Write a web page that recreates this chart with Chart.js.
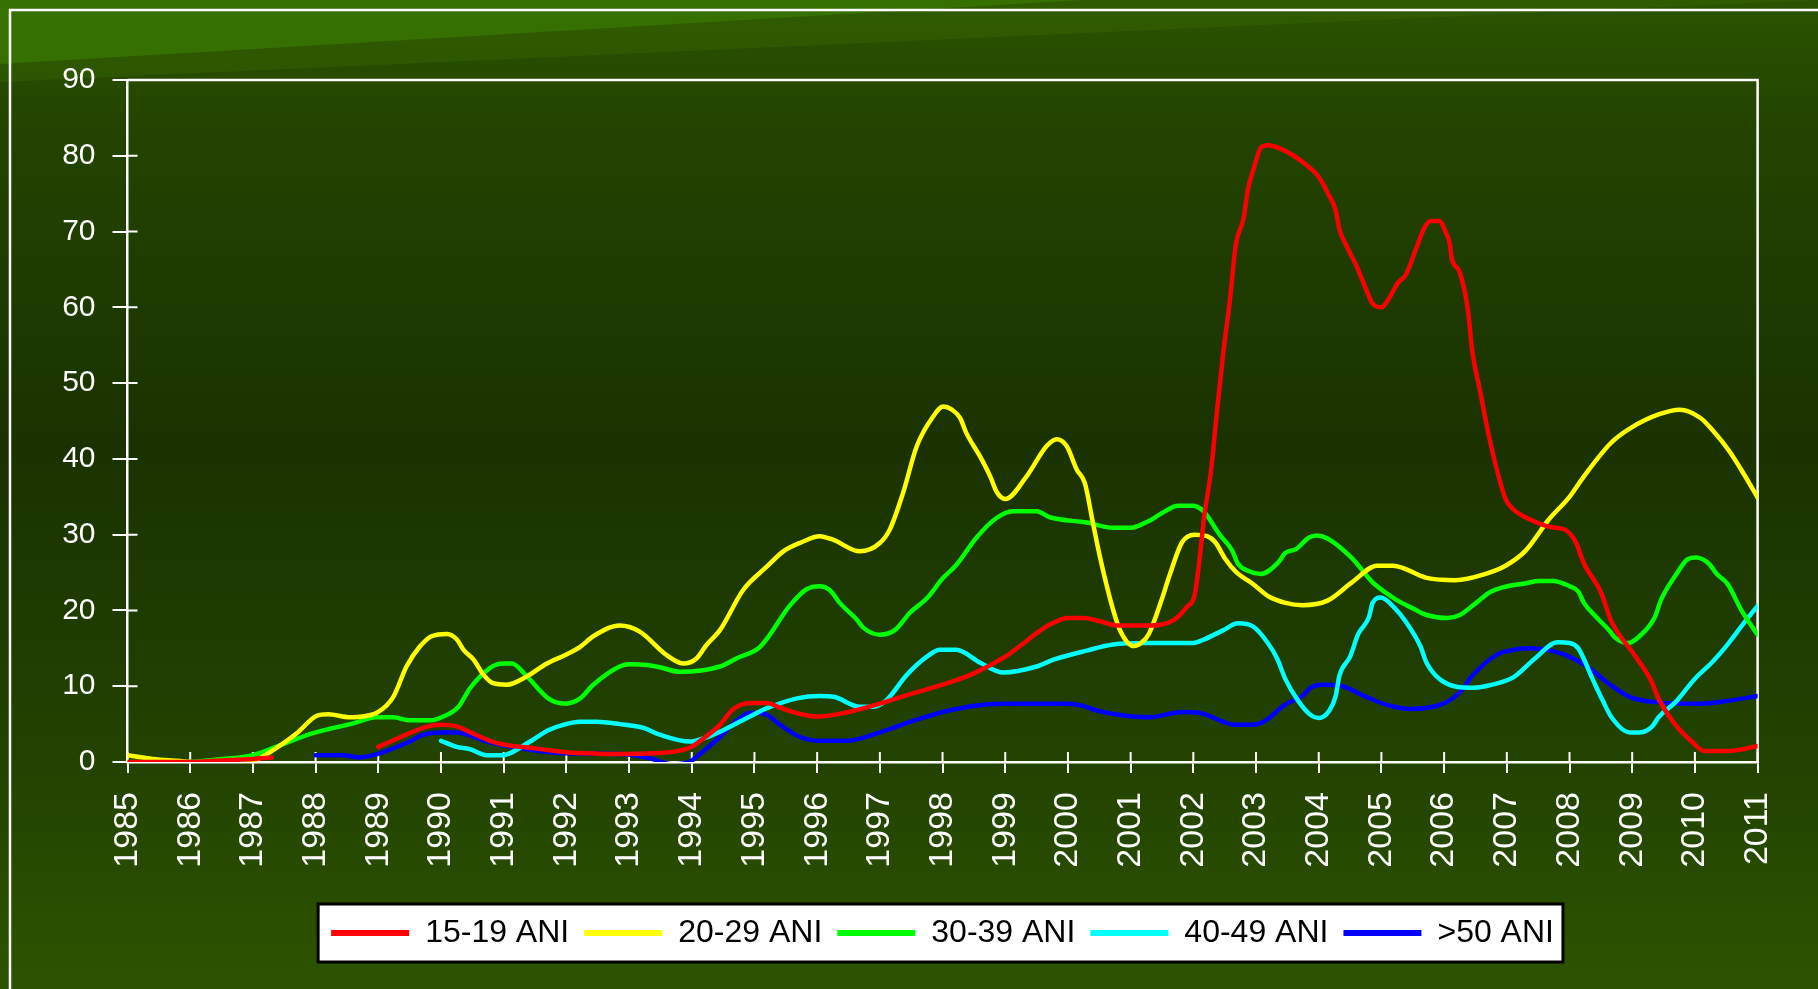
<!DOCTYPE html>
<html>
<head>
<meta charset="utf-8">
<script src="https://cdn.jsdelivr.net/npm/chart.js@4.4.0/dist/chart.umd.min.js"></script>
<style>
  html, body { margin: 0; padding: 0; background: #1e3a00; }
  #wrap { width: 1818px; height: 989px; }
</style>
</head>
<body>
<div id="wrap"><canvas id="chart" width="1818" height="989"></canvas></div>
<script>
// tick labels
const yearLabels = ['1985', '1986', '1987', '1988', '1989', '1990', '1991', '1992', '1993', '1994', '1995', '1996', '1997',
    '1998', '1999', '2000', '2001', '2002', '2003', '2004', '2005', '2006', '2007', '2008', '2009', '2010', '2011'];
const seriesNames = ['15-19 ANI', '20-29 ANI', '30-39 ANI', '40-49 ANI', '>50 ANI'];
const seriesColors = ['#ff0000', '#ffff00', '#00ff00', '#00ffff', '#0000ff'];

// 15-19 ANI
const redYears = [1985, 1985.5, 1986, 1986.5, 1987, 1987.3, 1988, 1989, 1989.25, 1989.5, 1989.75, 1990, 1990.25, 1990.5, 1990.75,
    1991, 1991.5, 1992, 1992.5, 1992.85, 1993.4, 1993.75, 1994.0, 1994.2, 1994.45, 1994.65, 1994.93, 1995.2, 1995.4, 1995.75,
    1996, 1996.5, 1997, 1997.5, 1998, 1998.5, 1999, 1999.25, 1999.5, 1999.75, 2000, 2000.25, 2000.5, 2000.8, 2001.25, 2001.7,
    2001.9, 2002.02, 2002.1, 2002.17, 2002.28, 2002.38, 2002.48, 2002.58, 2002.68, 2002.8, 2002.87, 2002.97, 2003.08, 2003.2,
    2003.37, 2003.6, 2003.8, 2004.0, 2004.15, 2004.27, 2004.33, 2004.45, 2004.6, 2004.73, 2004.86, 2005.0, 2005.13, 2005.26,
    2005.39, 2005.56, 2005.69, 2005.79, 2005.92, 2006.02, 2006.09, 2006.12, 2006.25, 2006.38, 2006.45, 2006.58, 2006.71,
    2006.85, 2006.98, 2007.11, 2007.37, 2007.7, 2007.94, 2008.1, 2008.23, 2008.5, 2008.67, 2009.03, 2009.29, 2009.43,
    2009.69, 2009.95, 2010.15, 2010.6, 2011];
const redValues = [0, 0, 0, 0.2, 0.4, 0.6, null, 2.0, 2.9, 3.8, 4.6, 4.9, 4.7, 3.8, 2.9,
    2.3, 1.8, 1.3, 1.1, 1.05, 1.15, 1.4, 2.0, 3.2, 4.9, 6.9, 7.8, 7.8, 7.2, 6.3,
    6.0, 6.6, 7.7, 9.0, 10.2, 11.7, 13.9, 15.4, 17.0, 18.3, 19.0, 19.0, 18.6, 18.0, 18.0, 18.8,
    20.5, 22.0, 26.8, 32.2, 38.3, 46.5, 54.2, 60.7, 68.4, 71.7, 75.5, 78.5, 81.1, 81.4,
    81.0, 80.0, 78.8, 77.2, 75.0, 72.8, 70.3, 68.0, 65.5, 62.9, 60.5, 60.0, 61.3, 63.2,
    64.3, 67.9, 70.6, 71.4, 71.4, 70.0, 68.4, 66.5, 64.6, 59.6, 54.2, 48.7, 43.2,
    38.3, 34.7, 33.3, 32.0, 31.0, 30.6, 29.0, 26.2, 22.4, 18.5, 14.2, 10.9, 8.2,
    4.9, 2.7, 1.45, 1.5, 2.1];

// 20-29 ANI
const yellowYears = [1985, 1985.4, 1985.95, 1986.3, 1986.65, 1987.0, 1987.33, 1987.7, 1988.02, 1988.2, 1988.55, 1988.75,
    1989.0, 1989.24, 1989.45, 1989.66, 1989.85, 1990.1, 1990.25, 1990.36, 1990.52, 1990.68, 1990.83, 1991.05, 1991.37,
    1991.69, 1992.0, 1992.22, 1992.43, 1992.85, 1993.17, 1993.6, 1993.86, 1994.08, 1994.24, 1994.45, 1994.82, 1995.2,
    1995.46, 1995.75, 1996.04, 1996.26, 1996.68, 1997.0, 1997.16, 1997.37, 1997.59, 1997.85, 1998.01, 1998.15, 1998.28,
    1998.38, 1998.6, 1998.76, 1998.86, 1999.0, 1999.34, 1999.66, 1999.82, 1999.98, 2000.14, 2000.27, 2000.4, 2000.51,
    2000.72, 2000.83, 2001.05, 2001.18, 2001.29, 2001.49, 2001.62, 2001.82, 2002.02, 2002.22, 2002.35, 2002.51, 2002.68,
    2002.95, 2003.21, 2003.47, 2003.74, 2004.14, 2004.53, 2004.93, 2005.19, 2005.72, 2006.18, 2006.65, 2006.98, 2007.3,
    2007.67, 2008.0, 2008.23, 2008.66, 2008.96, 2009.43, 2009.76, 2010.09, 2010.29, 2010.55, 2010.78, 2011];
const yellowValues = [0.9, 0.4, 0.05, -0.3, -0.5, 0.05, 1.6, 3.8, 6.1, 6.3, 5.9, 6.0,
    6.6, 8.6, 12.6, 15.2, 16.6, 16.9, 16.2, 14.8, 13.5, 11.5, 10.4, 10.2, 11.3,
    13.0, 14.2, 15.2, 16.6, 18.0, 17.2, 14.1, 13.0, 13.7, 15.5, 17.4, 22.7, 25.8,
    27.8, 29.0, 29.8, 29.3, 27.8, 28.9, 30.7, 35.5, 41.7, 45.6, 46.9, 46.5, 45.4,
    43.4, 40.3, 37.7, 35.7, 34.7, 37.7, 41.7, 42.6, 41.7, 38.6, 36.8, 31.5, 27.1,
    20.1, 17.4, 15.3, 15.8, 16.9, 21.3, 24.6, 29.0, 30.0, 29.8, 29.0, 26.8, 25.1,
    23.5, 21.8, 21.0, 20.7, 21.3, 23.7, 25.9, 25.9, 24.3, 24.0, 24.8, 25.9, 27.9,
    32.0, 35.0, 37.7, 42.1, 44.0, 45.9, 46.5, 45.4, 43.7, 41.0, 38.0, 34.9];

// 30-39 ANI
const greenYears = [1985, 1985.94, 1986.47, 1987.0, 1987.43, 1987.96, 1988.6, 1988.97, 1989.24, 1989.5, 1989.83, 1990.01,
    1990.28, 1990.46, 1990.78, 1990.99, 1991.13, 1991.37, 1991.71, 1991.98, 1992.22, 1992.43, 1992.85, 1993.01, 1993.28,
    1993.49, 1993.81, 1994.45, 1994.72, 1995.09, 1995.57, 1995.83, 1996.04, 1996.2, 1996.36, 1996.63, 1996.74, 1997.0,
    1997.24, 1997.48, 1997.75, 1998.01, 1998.22, 1998.54, 1998.86, 1999.13, 1999.5, 1999.71, 2000.3, 2000.72, 2000.99,
    2001.29, 2001.49, 2001.76, 2001.99, 2002.16, 2002.42, 2002.62, 2002.71, 2002.88, 2003.08, 2003.34, 2003.47, 2003.64,
    2003.84, 2003.97, 2004.14, 2004.53, 2004.86, 2005.06, 2005.26, 2005.52, 2005.72, 2006.05, 2006.25, 2006.51, 2006.75,
    2007.01, 2007.31, 2007.51, 2007.74, 2008.0, 2008.14, 2008.23, 2008.43, 2008.63, 2008.73, 2008.93, 2009.09, 2009.36,
    2009.46, 2009.69, 2009.89, 2010.02, 2010.22, 2010.35, 2010.52, 2010.75, 2011];
const greenValues = [0, 0, 0.35, 0.9, 2.2, 3.8, 5.1, 5.9, 5.9, 5.5, 5.5, 5.9,
    7.3, 9.7, 12.4, 13.0, 13.0, 11.3, 8.4, 7.7, 8.4, 10.2, 12.6, 12.9, 12.8,
    12.5, 11.9, 12.6, 13.7, 15.2, 20.7, 22.8, 23.2, 22.7, 21.0, 18.8, 17.7, 16.8,
    17.4, 19.7, 21.6, 24.3, 26.0, 29.6, 32.2, 33.1, 33.1, 32.3, 31.6, 30.9, 30.9,
    31.8, 32.8, 33.8, 33.8, 33.1, 30.0, 27.9, 26.2, 25.2, 24.8, 26.2, 27.6, 28.1,
    29.6, 29.9, 29.5, 26.9, 23.7, 22.4, 21.3, 20.2, 19.4, 19.0, 19.4, 21.0, 22.5,
    23.2, 23.6, 23.9, 23.9, 23.2, 22.5, 21.0, 19.1, 17.4, 16.4, 15.7, 16.4, 19.1,
    21.4, 24.6, 26.8, 27.0, 26.2, 24.8, 23.5, 19.9, 16.8];

// 40-49 ANI
const cyanYears = [1990.0, 1990.25, 1990.46, 1990.73, 1990.97, 1991.42, 1991.71, 1991.95, 1992.22, 1992.48, 1992.85,
    1993.23, 1993.49, 1993.97, 1994.18, 1994.45, 1994.88, 1995.2, 1995.68, 1996.04, 1996.26, 1996.68, 1996.9, 1997.11,
    1997.43, 1997.75, 1997.96, 1998.22, 1998.6, 1998.97, 1999.5, 1999.77, 2000.3, 2000.72, 2001.23, 2001.99, 2002.15,
    2002.48, 2002.71, 2002.95, 2003.18, 2003.34, 2003.47, 2003.67, 2003.87, 2004.0, 2004.17, 2004.27, 2004.33, 2004.5,
    2004.63, 2004.8, 2004.86, 2004.99, 2005.19, 2005.39, 2005.62, 2005.72, 2005.95, 2006.45, 2006.71, 2007.11, 2007.44,
    2007.81, 2008.0, 2008.14, 2008.37, 2008.53, 2008.67, 2008.96, 2009.12, 2009.32, 2009.42, 2009.69, 2009.99, 2010.29,
    2010.52, 2010.75, 2011];
const cyanValues = [2.8, 2.0, 1.7, 0.9, 0.9, 2.7, 4.2, 4.9, 5.3, 5.3, 5.0,
    4.5, 3.6, 2.7, 3.1, 4.0, 5.8, 7.1, 8.4, 8.7, 8.6, 7.3, 7.3, 8.2,
    11.5, 13.9, 14.8, 14.8, 13.1, 11.8, 12.6, 13.5, 14.7, 15.5, 15.7, 15.7, 16.1,
    17.4, 18.3, 17.9, 15.8, 13.6, 10.9, 8.1, 6.2, 5.8, 6.8, 8.7, 11.4, 13.9,
    16.9, 19.1, 21.0, 21.7, 20.5, 18.5, 15.3, 13.1, 10.8, 9.8, 10.1, 11.2, 13.6,
    15.8, 15.7, 15.0, 10.9, 8.1, 5.9, 3.9, 3.9, 4.7, 5.9, 7.9, 10.9, 13.3,
    15.5, 18.0, 20.6];

// >50 ANI
const blueYears = [1988.0, 1988.44, 1988.68, 1988.92, 1989.24, 1989.5, 1989.72, 1989.98, 1990.25, 1990.73, 1991.26,
    1991.95, 1992.85, 1993.28, 1993.7, 1993.97, 1994.18, 1994.45, 1994.72, 1994.93, 1995.15, 1995.41, 1995.73, 1996.04,
    1996.47, 1997.0, 1997.48, 1998.01, 1998.49, 1998.97, 1999.98, 2000.24, 2000.46, 2000.83, 2001.29, 2001.82, 2002.09,
    2002.68, 2002.95, 2003.14, 2003.47, 2003.74, 2003.87, 2004.07, 2004.33, 2004.73, 2005.06, 2005.46, 2005.99, 2006.25,
    2006.45, 2006.85, 2007.04, 2007.37, 2007.7, 2007.97, 2008.3, 2008.63, 2008.96, 2009.36, 2010.09, 2010.55, 2011];
const blueValues = [0.9, 0.9, 0.6, 0.9, 1.8, 2.7, 3.6, 3.9, 3.9, 2.7, 1.8,
    1.15, 1.06, 0.6, -0.3, 0.05, 1.4, 3.3, 5.5, 6.5, 6.4, 4.9, 3.3, 2.8,
    2.8, 3.9, 5.3, 6.6, 7.4, 7.7, 7.7, 7.4, 6.8, 6.2, 5.9, 6.6, 6.5,
    4.9, 4.9, 5.4, 7.6, 8.7, 9.8, 10.2, 10.1, 8.7, 7.6, 7.0, 7.7, 9.2,
    11.4, 14.2, 14.7, 15.0, 14.7, 14.0, 12.5, 10.3, 8.6, 7.9, 7.7, 8.1, 8.7];

const toPoints = (xs, ys) => xs.map((x, i) => ({ x: x, y: ys[i] }));
const seriesData = [
    toPoints(redYears, redValues),
    toPoints(yellowYears, yellowValues),
    toPoints(greenYears, greenValues),
    toPoints(cyanYears, cyanValues),
    toPoints(blueYears, blueValues)
];

//background, frame, legend box and inner tick marks
const decor = {
    id: 'decor',
    beforeDraw(chart) {
        const { ctx, width, height } = chart;
        ctx.save();
        const bg = ctx.createLinearGradient(0, 0, 0, height);
        bg.addColorStop(0, '#2a5400');
        bg.addColorStop(0.12, '#234500');
        bg.addColorStop(0.45, '#1a3200');
        bg.addColorStop(0.8, '#234500');
        bg.addColorStop(1, '#2c5400');
        ctx.fillStyle = bg;
        ctx.fillRect(0, 0, width, height);
        // lighter diagonal bands top left
        ctx.fillStyle = 'rgba(60, 110, 0, 0.35)';
        ctx.beginPath();
        ctx.moveTo(0, 0);
        ctx.lineTo(width, 0);
        ctx.lineTo(0, 82);
        ctx.closePath();
        ctx.fill();
        ctx.fillStyle = '#367000';
        ctx.beginPath();
        ctx.moveTo(0, 0);
        ctx.lineTo(1083, 0);
        ctx.lineTo(0, 64);
        ctx.closePath();
        ctx.fill();
        // outer frame
        ctx.strokeStyle = '#ffffff';
        ctx.lineWidth = 2.5;
        ctx.beginPath();
        ctx.moveTo(width + 5, 10);
        ctx.lineTo(10, 10);
        ctx.lineTo(10, height + 5);
        ctx.stroke();
        // legend box
        const boxes = chart.legend && chart.legend.legendHitBoxes;
        if (boxes && boxes.length) {
            const first = boxes[0];
            const last = boxes[boxes.length - 1];
            const cy = first.top + first.height / 2;
            const left = first.left - 13;
            const right = last.left + last.width + 9;
            ctx.fillStyle = '#ffffff';
            ctx.fillRect(left, cy - 29, right - left, 58);
            ctx.strokeStyle = '#000000';
            ctx.lineWidth = 3;
            ctx.strokeRect(left, cy - 29, right - left, 58);
        }
        ctx.restore();
    },
    beforeDatasetsDraw(chart) {
        const { ctx, chartArea, scales } = chart;
        ctx.save();
        ctx.strokeStyle = '#ffffff';
        ctx.lineWidth = 2.5;
        ctx.beginPath();
        ctx.moveTo(chartArea.left, chartArea.top);
        ctx.lineTo(chartArea.right, chartArea.top);
        ctx.lineTo(chartArea.right, chartArea.bottom);
        ctx.stroke();
        ctx.lineWidth = 2;
        ctx.beginPath();
        scales.y.ticks.forEach(t => {
            const py = scales.y.getPixelForValue(t.value);
            ctx.moveTo(chartArea.left, py);
            ctx.lineTo(chartArea.left + 10, py);
        });
        scales.x.ticks.forEach(t => {
            const px = scales.x.getPixelForValue(t.value);
            ctx.moveTo(px, chartArea.bottom);
            ctx.lineTo(px, chartArea.bottom - 10);
        });
        ctx.stroke();
        ctx.restore();
    }
};

const chart = document.querySelector('#chart').getContext('2d');
new Chart(chart, {
    type: 'line',
    data: {
        datasets: seriesNames.map((name, i) => ({
            label: name,
            data: seriesData[i],
            borderColor: seriesColors[i],
            backgroundColor: seriesColors[i],
            borderWidth: 4.5,
            pointRadius: 0,
            cubicInterpolationMode: 'monotone',
            spanGaps: false,
            borderCapStyle: 'round',
            borderJoinStyle: 'round'
        }))
    },
    options: {
        responsive: false,
        animation: false,
        layout: {
            padding: { left: 0, right: 60.4, top: 80, bottom: 30 }
        },
        scales: {
            x: {
                type: 'linear',
                min: 1985,
                max: 2011,
                border: { color: '#ffffff', width: 2.5 },
                grid: { drawOnChartArea: false, color: '#ffffff', lineWidth: 2, tickLength: 11 },
                ticks: {
                    stepSize: 1,
                    autoSkip: false,
                    maxTicksLimit: 40,
                    minRotation: 90,
                    maxRotation: 90,
                    padding: 19,
                    color: '#ffffff',
                    font: { family: 'Liberation Sans', size: 34 },
                    callback: (v, i) => yearLabels[i]
                },
                afterFit: (scale) => { scale.height = 140; }
            },
            y: {
                min: 0,
                max: 90,
                border: { color: '#ffffff', width: 2.5 },
                grid: { drawOnChartArea: false, color: '#ffffff', lineWidth: 2, tickLength: 15 },
                ticks: {
                    stepSize: 10,
                    padding: 17,
                    color: '#ffffff',
                    font: { family: 'Liberation Sans', size: 30 }
                },
                afterFit: (scale) => { scale.width = 127.5; }
            }
        },
        plugins: {
            tooltip: { enabled: false },
            legend: {
                position: 'bottom',
                fullSize: false,
                labels: {
                    boxWidth: 78,
                    boxHeight: 6,
                    padding: 15,
                    color: '#000000',
                    font: { family: 'Liberation Sans', size: 32 },
                    generateLabels: (c) => Chart.defaults.plugins.legend.labels.generateLabels(c)
                        .map(item => Object.assign(item, { lineWidth: 0 }))
                }
            }
        }
    },
    plugins: [decor]
});
</script>
</body>
</html>
